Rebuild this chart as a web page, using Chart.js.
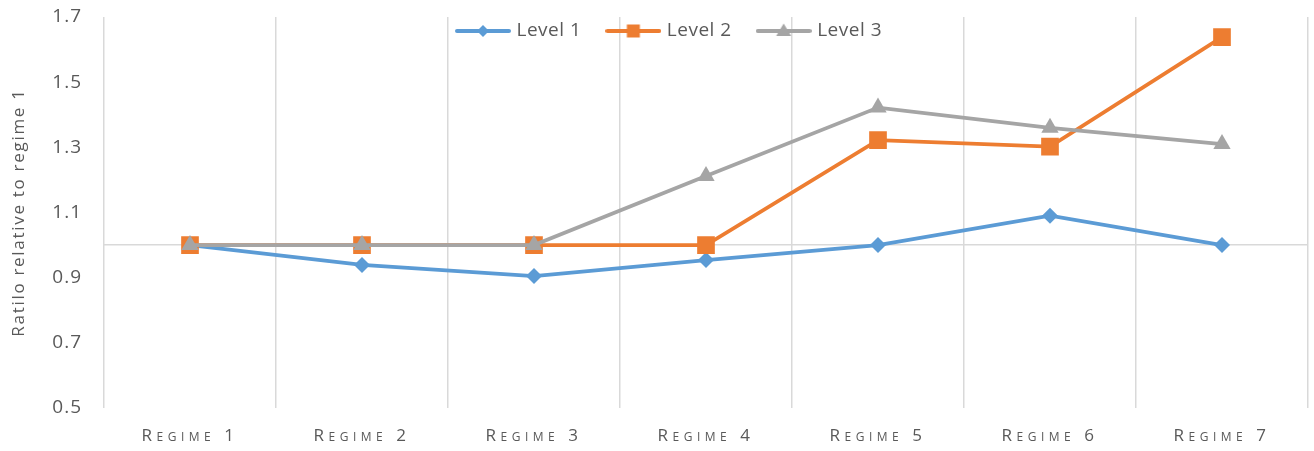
<!DOCTYPE html>
<html><head><meta charset="utf-8">
<script src="https://cdn.jsdelivr.net/npm/chart.js@4.4.1/dist/chart.umd.min.js"></script>
<style>html,body{margin:0;padding:0;background:#fff}</style>
</head><body>
<canvas id="c" width="1314" height="451"></canvas>
<script>
const categories = ['Regime 1','Regime 2','Regime 3','Regime 4','Regime 5','Regime 6','Regime 7'];
const seriesNames = ['Level 1','Level 2','Level 3'];
const level1 = [1.0, 0.939, 0.905, 0.954, 1.0, 1.090, 1.0];
const level2 = [1.0, 1.0, 1.0, 1.0, 1.322, 1.302, 1.638];
const level3 = [1.0, 1.0, 1.0, 1.212, 1.422, 1.360, 1.310];
const yTickValues = [0.5, 0.7, 0.9, 1.1, 1.3, 1.5, 1.7];
const baselineValue = 1.0;
const yTitle = 'Ratilo relative to regime 1';

const FONT = "'Open Sans', sans-serif";
const TEXT = '#595959';
const GRID = '#D9D9D9';
const colors = ['#5B9BD5', '#ED7D31', '#A5A5A5'];
const styles = ['rectRot', 'rect', 'triangle'];
const radii = [8, 12.5, 10];

function legendImage(color, style) {
  const c = document.createElement('canvas');
  c.width = 56; c.height = 20;
  const g = c.getContext('2d');
  g.strokeStyle = color; g.lineWidth = 4; g.lineCap = 'round';
  g.beginPath(); g.moveTo(2, 10); g.lineTo(54, 10); g.stroke();
  g.fillStyle = color; g.beginPath();
  if (style === 'rectRot') { g.moveTo(28, 4); g.lineTo(34, 10); g.lineTo(28, 16); g.lineTo(22, 10); }
  else if (style === 'rect') { g.rect(21.5, 3.5, 13, 13); }
  else { g.moveTo(28, 2.5); g.lineTo(35.5, 15); g.lineTo(20.5, 15); }
  g.closePath(); g.fill();
  return c;
}
const legendImgs = colors.map((c, i) => legendImage(c, styles[i]));

const seriesData = [level1, level2, level3];
const datasets = seriesData.map((d, i) => ({
  label: seriesNames[i],
  data: d,
  borderColor: colors[i],
  backgroundColor: colors[i],
  pointBackgroundColor: colors[i],
  pointBorderColor: colors[i],
  borderWidth: 3.75,
  pointStyle: styles[i],
  pointRadius: radii[i],
  pointHoverRadius: radii[i],
  pointBorderWidth: 0,
  tension: 0,
  order: 3 - i
}));

function withSpacing(obj, name, spacing) {
  const flag = '_ls_' + name;
  if (obj[flag]) return;
  obj[flag] = true;
  const orig = obj[name];
  obj[name] = function (...args) {
    const ctx = this.ctx; ctx.save(); ctx.letterSpacing = spacing;
    const r = orig.apply(this, args); ctx.restore(); return r;
  };
}

const overlayLegend = {
  id: 'overlayLegend',
  beforeLayout(chart) {
    const lg = chart.legend;
    if (lg && !lg._patched) {
      lg._patched = true;
      const fit = lg.fit;
      lg.fit = function () { fit.call(this); this.height = 0; };
      withSpacing(lg, 'draw', '0.5px');
    }
  },
  afterLayout(chart) {
    const lg = chart.legend;
    const pad = lg.options.labels.padding;
    lg.top = -6.5; lg.height = 80; lg.bottom = lg.top + lg.height;
    lg.left = 459 - pad; lg.right = 1314; lg.width = lg.right - lg.left;
    withSpacing(chart.scales.x, 'drawLabels', '4.5px');
    withSpacing(chart.scales.y, 'drawLabels', '1px');
    withSpacing(chart.scales.y, 'drawTitle', '1.7px');
  }
};

const isBase = v => Math.abs(v - baselineValue) < 1e-9;

new Chart(document.getElementById('c'), {
  type: 'line',
  data: { labels: categories, datasets },
  plugins: [overlayLegend],
  options: {
    responsive: false,
    animation: false,
    layout: { autoPadding: false, padding: { top: 17, right: 6, left: 0, bottom: 0 } },
    plugins: {
      tooltip: { enabled: false },
      legend: {
        position: 'top',
        align: 'start',
        labels: {
          usePointStyle: true,
          pointStyleWidth: 48,
          padding: 28,
          color: TEXT,
          font: { family: FONT, size: 19 },
          generateLabels(chart) {
            const items = Chart.defaults.plugins.legend.labels.generateLabels(chart);
            items.sort((a, b) => a.datasetIndex - b.datasetIndex);
            items.forEach((it) => { it.pointStyle = legendImgs[it.datasetIndex]; });
            return items;
          }
        }
      }
    },
    scales: {
      x: {
        offset: true,
        grid: { offset: true, drawTicks: false, color: GRID, lineWidth: 1.5 },
        border: { display: false },
        afterFit: s => { s.height = 43; s.paddingLeft = 0; s.paddingRight = 0; },
        ticks: { padding: 18, color: TEXT, maxRotation: 0, autoSkip: false,
                 font: { family: FONT, size: 17, weight: 'small-caps' } }
      },
      y: {
        min: 0.5, max: 1.7,
        afterBuildTicks: s => {
          s.ticks = [...yTickValues, baselineValue].sort((a, b) => a - b).map(v => ({ value: v }));
        },
        afterFit: s => { s.width = 104; s.paddingTop = 8; s.paddingBottom = 8; },
        ticks: { padding: 22, color: TEXT, font: { family: FONT, size: 19 },
                 callback: v => isBase(v) ? '' : Number(v).toFixed(1) },
        grid: { drawTicks: false, lineWidth: 1.5,
                color: c => (c.tick && isBase(c.tick.value)) ? GRID : 'rgba(0,0,0,0)' },
        border: { display: false },
        title: { display: true, text: yTitle, color: TEXT, font: { family: FONT, size: 17 },
                 padding: { top: 9, bottom: 0 } }
      }
    }
  }
});
</script>
</body></html>
